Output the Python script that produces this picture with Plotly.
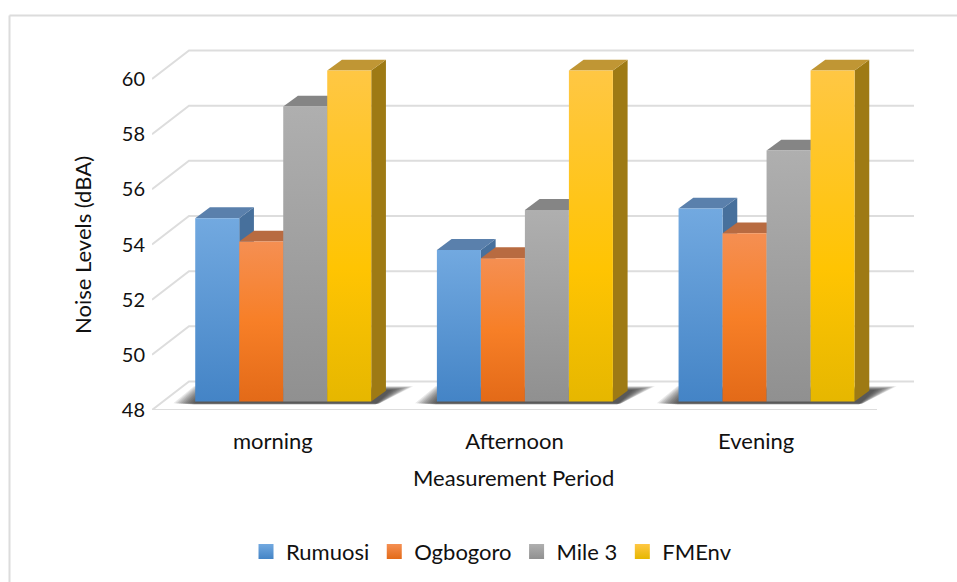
import plotly.graph_objects as go

# Chart data
periods = ["morning", "Afternoon", "Evening"]
series_names = ["Rumuosi", "Ogbogoro", "Mile 3", "FMEnv"]
rumuosi = [54.65, 53.5, 55.0]
ogbogoro = [53.8, 53.2, 54.1]
mile_3 = [58.7, 54.95, 57.1]
fmenv = [60, 60, 60]
y_ticks = [48, 50, 52, 54, 56, 58, 60]

series_values = [rumuosi, ogbogoro, mile_3, fmenv]

# Face colours per series: front gradient stops, side and top shading
front_stops = [
    [[0, "#72A9E0"], [1, "#4484C6"]],
    [[0, "#F58F52"], [0.5, "#F77F27"], [1, "#E36A18"]],
    [[0, "#AFAFAF"], [1, "#909090"]],
    [[0, "#FFC744"], [0.6, "#FFC402"], [1, "#E6B700"]],
]
side_colors = ["#47709C", "#A65A2C", "#6E6E6E", "#9E7A14"]
top_colors = ["#5A80AC", "#B86B41", "#858585", "#C09634"]

FONT = "Lato"
TEXT = "#111111"
GRID = "#DDDDDD"

# Pixel geometry: the front plane spans 48-60 and three categories;
# the axes run a little further so the back wall stays inside the plot
W, H = 957, 582
FRONT_L, FRONT_R, FRONT_T, FRONT_B = 152, 877, 79, 410
PX_X = 3 / (FRONT_R - FRONT_L)
PX_Y = 12 / (FRONT_B - FRONT_T)
PLOT_R, PLOT_T = 925, 40
X_MAX = 2.5 + (PLOT_R - FRONT_R) * PX_X
Y_MAX = 60 + (FRONT_T - PLOT_T) * PX_Y


def paper_x(px):
    return (px - FRONT_L) / (PLOT_R - FRONT_L)


def paper_y(px):
    return (FRONT_B - px) / (FRONT_B - PLOT_T)


# Oblique projection offsets, in data units
WALL_DX, WALL_DY = 37 * PX_X, 28.5 * PX_Y
BAR_DX, BAR_DY = 14.7 * PX_X, 10.8 * PX_Y
PLANE_DX, PLANE_DY = 10.4 * PX_X, 8.4 * PX_Y
BAR_W = 44 * PX_X
BASE = 48

fig = go.Figure()


def polygon(xs, ys, **kw):
    fig.add_trace(go.Scatter(
        x=xs + xs[:1], y=ys + ys[:1], mode="lines", fill="toself",
        line=dict(width=0), hoverinfo="skip", showlegend=False, **kw))


def line(xs, ys):
    fig.add_trace(go.Scatter(
        x=xs, y=ys, mode="lines", line=dict(color=GRID, width=2),
        hoverinfo="skip", showlegend=False))


# Walls and floor: each level runs along the side wall and the back wall
for v in y_ticks:
    line([-0.5, -0.5 + WALL_DX, 2.5 + WALL_DX], [v, v + WALL_DY, v + WALL_DY])
line([-0.5, 2.5], [BASE, BASE])

# Soft shadow on the floor, built from stacked translucent layers
for g in range(len(periods)):
    x0 = g + PLANE_DX - 2 * BAR_W
    x1 = g + PLANE_DX + 2 * BAR_W
    y0 = BASE + PLANE_DY
    for s in range(12):
        grow = 11 - s
        low = y0 - (3 - grow * 0.12) * PX_Y
        high = y0 + (11.5 + grow * 0.35) * PX_Y
        polygon(
            [x0 - (2 + grow * 1.8) * PX_X, x1 + (4 + grow * 0.4) * PX_X,
             x1 + (20 + grow * 2) * PX_X, x0 + (12 - grow * 1.2) * PX_X],
            [low, low, high, high],
            fillcolor="rgba(30,30,30,0.10)")

# Bars, left to right so that each front face covers its neighbour's side
for g in range(len(periods)):
    for k, values in enumerate(series_values):
        v = values[g]
        x0 = g + PLANE_DX - 2 * BAR_W + k * BAR_W
        x1 = x0 + BAR_W
        y0 = BASE + PLANE_DY
        y1 = v + PLANE_DY
        polygon([x1, x1 + BAR_DX, x1 + BAR_DX, x1],
                [y0, y0 + BAR_DY, y1 + BAR_DY, y1], fillcolor=side_colors[k])
        polygon([x0, x1, x1 + BAR_DX, x0 + BAR_DX],
                [y1, y1, y1 + BAR_DY, y1 + BAR_DY], fillcolor=top_colors[k])
        polygon([x0, x1, x1, x0], [y0, y0, y1, y1],
                fillcolor=front_stops[k][0][1],
                fillgradient=dict(type="vertical", start=y1, stop=y0,
                                  colorscale=front_stops[k]))

# Legend entries
for k, name in enumerate(series_names):
    fig.add_trace(go.Scatter(
        x=[None], y=[None], mode="markers", name=name,
        marker=dict(symbol="square", size=15, color=front_stops[k][0][1],
                    gradient=dict(type="vertical", color=front_stops[k][-1][1]),
                    line=dict(width=0))))

# Outer frame of the chart area
frame_style = dict(type="line", xref="paper", yref="paper",
                   line=dict(color="#DCDCDC", width=2), layer="below")
fig.add_shape(x0=paper_x(9.5), x1=paper_x(958), y0=paper_y(15.5), y1=paper_y(15.5),
              **frame_style)
fig.add_shape(x0=paper_x(9.5), x1=paper_x(9.5), y0=paper_y(15.5), y1=paper_y(583),
              **frame_style)

# Axis titles, centred on the front plane
fig.add_annotation(text="Measurement Period", xref="paper", yref="paper",
                   x=paper_x(513), y=paper_y(478), showarrow=False,
                   xanchor="center", yanchor="middle",
                   font=dict(size=22, family=FONT, color=TEXT))
fig.add_annotation(text="Noise Levels (dBA)", xref="paper", yref="paper",
                   x=paper_x(82), y=paper_y(245), showarrow=False, textangle=-90,
                   xanchor="center", yanchor="middle",
                   font=dict(size=22, family=FONT, color=TEXT))

fig.update_layout(
    width=W, height=H,
    margin=dict(l=FRONT_L, r=W - PLOT_R, t=PLOT_T, b=H - FRONT_B, autoexpand=False),
    paper_bgcolor="white", plot_bgcolor="rgba(0,0,0,0)",
    font=dict(family=FONT, size=20, color=TEXT),
    legend=dict(orientation="h", x=0.5136, xanchor="center", xref="container",
                y=0.052, yanchor="middle", yref="container",
                font=dict(size=22), bgcolor="rgba(0,0,0,0)"),
    xaxis=dict(range=[-0.5, X_MAX], tickmode="array", tickvals=[0, 1, 2],
               ticktext=periods, showgrid=False, zeroline=False, showline=False,
               ticks="outside", ticklen=12, tickcolor="rgba(0,0,0,0)",
               tickfont=dict(size=22)),
    yaxis=dict(range=[48, Y_MAX], tickmode="array", tickvals=y_ticks,
               showgrid=False, zeroline=False, showline=False,
               ticks="outside", ticklen=2, tickcolor="rgba(0,0,0,0)",
               tickfont=dict(size=20)),
)

fig.write_html("out.html")
